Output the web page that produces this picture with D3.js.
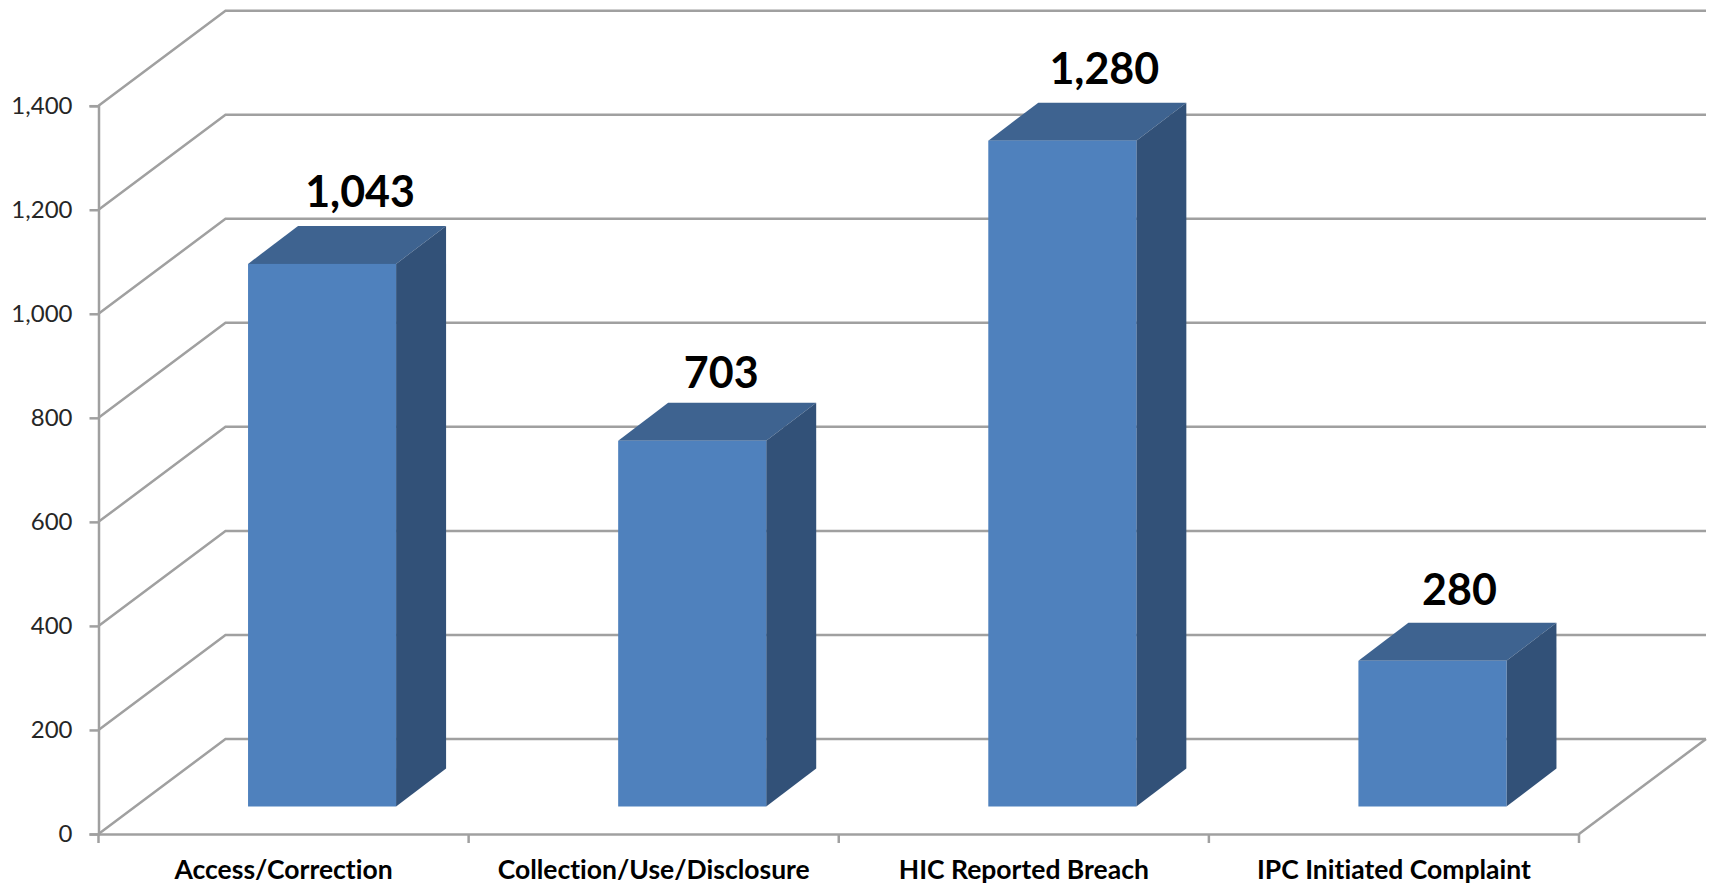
<!DOCTYPE html>
<html>
<head>
<meta charset="utf-8">
<script src="https://cdn.jsdelivr.net/npm/d3@7"></script>
<style>
  html, body { margin: 0; padding: 0; background: #fff; }
  svg { display: block; }
  text { font-family: Lato, sans-serif; font-variant-ligatures: none; }
</style>
</head>
<body>
<div id="chart"></div>
<script>
const categories = ["Access/Correction", "Collection/Use/Disclosure", "HIC Reported Breach", "IPC Initiated Complaint"];
const complaints = [1043, 703, 1280, 280];
const yTicks = [0, 200, 400, 600, 800, 1000, 1200, 1400];

const width = 1712, height = 886;
const lineColor = "#a0a0a0";

// fake 3d: how far the back wall sits from the front plane
const wall = { dx: 127, dy: 95 };
const depth = { dx: 50, dy: 38 };
// labels in the source were nudged by hand, they don't sit on the bar centre
const labelShift = [38, 29, 42, 27];
const labelLift = [19, 15, 19, 18];

const svg = d3.select("#chart")
  .append("svg")
  .attr("width", width)
  .attr("height", height);

const x = d3.scaleBand()
  .domain(categories)
  .range([98.5, 1579])
  .paddingInner(0.6)
  .paddingOuter(0.3);

const y = d3.scaleLinear()
  .domain([0, 1400])
  .range([834, 105.7]);

// gridlines on the back wall
const wallRight = x.range()[1] + wall.dx;
svg.append("g")
  .selectAll("path")
  .data(yTicks)
  .enter()
  .append("path")
  .attr("fill", "none")
  .attr("stroke", lineColor)
  .attr("stroke-width", 2.5)
  .attr("d", d => d3.line()([
    [x.range()[0], y(d)],
    [x.range()[0] + wall.dx, y(d) - wall.dy],
    [wallRight, y(d) - wall.dy]
  ]));

// right edge of the floor
svg.append("path")
  .attr("fill", "none")
  .attr("stroke", lineColor)
  .attr("stroke-width", 2.5)
  .attr("d", d3.line()([
    [x.range()[1], y(0)],
    [wallRight, y(0) - wall.dy]
  ]));

// bars, the base sits partway into the floor
const baseX = (wall.dx - depth.dx) / 2;
const baseY = (wall.dy - depth.dy) / 2 - 1;

const bars = svg.append("g")
  .selectAll("g")
  .data(categories.map((c, i) => ({ name: c, value: complaints[i], shift: labelShift[i], lift: labelLift[i] })))
  .enter()
  .append("g")
  .attr("transform", d => "translate(" + (x(d.name) + baseX) + "," + (-baseY) + ")");

bars.append("path")
  .attr("fill", "#3e6390")
  .attr("d", d => d3.line()([
    [0, y(d.value)],
    [depth.dx, y(d.value) - depth.dy],
    [x.bandwidth() + depth.dx, y(d.value) - depth.dy],
    [x.bandwidth(), y(d.value)]
  ]));

bars.append("path")
  .attr("fill", "#325178")
  .attr("d", d => d3.line()([
    [x.bandwidth(), y(d.value)],
    [x.bandwidth() + depth.dx, y(d.value) - depth.dy],
    [x.bandwidth() + depth.dx, y(0) - depth.dy],
    [x.bandwidth(), y(0)]
  ]));

bars.append("rect")
  .attr("x", 0)
  .attr("y", d => y(d.value))
  .attr("width", x.bandwidth())
  .attr("height", d => y(0) - y(d.value))
  .attr("fill", "#4f81bd");

bars.append("text")
  .attr("x", d => x.bandwidth() / 2 + d.shift)
  .attr("y", d => y(d.value) - depth.dy - d.lift)
  .attr("text-anchor", "middle")
  .attr("font-size", 43)
  .attr("font-weight", 700)
  .attr("fill", "#000")
  .text(d => d3.format(",")(d.value));

// axes
const yAxis = svg.append("g")
  .attr("transform", "translate(" + x.range()[0] + ",0)")
  .call(d3.axisLeft(y).tickValues(yTicks).tickFormat(d3.format(",")).tickSize(9).tickPadding(17));

const xAxis = svg.append("g")
  .attr("transform", "translate(0," + y(0) + ")")
  .call(d3.axisBottom(x).tickSize(0).tickPadding(26.5));

// category ticks fall on the band edges, not the centres
xAxis.selectAll(".edge")
  .data(d3.range(categories.length + 1))
  .enter()
  .append("line")
  .attr("class", "edge")
  .attr("x1", i => x.range()[0] + i * x.step())
  .attr("x2", i => x.range()[0] + i * x.step())
  .attr("y1", 0)
  .attr("y2", 9);

svg.selectAll(".domain, .tick line, .edge")
  .attr("stroke", lineColor)
  .attr("stroke-width", 2.5);

yAxis.selectAll("text")
  .attr("font-family", "Lato, sans-serif")
  .attr("font-size", 24)
  .attr("fill", "#262626");

xAxis.selectAll("text")
  .attr("font-family", "Lato, sans-serif")
  .attr("font-size", 26.5)
  .attr("font-weight", 700)
  .attr("fill", "#000");
</script>
</body>
</html>
